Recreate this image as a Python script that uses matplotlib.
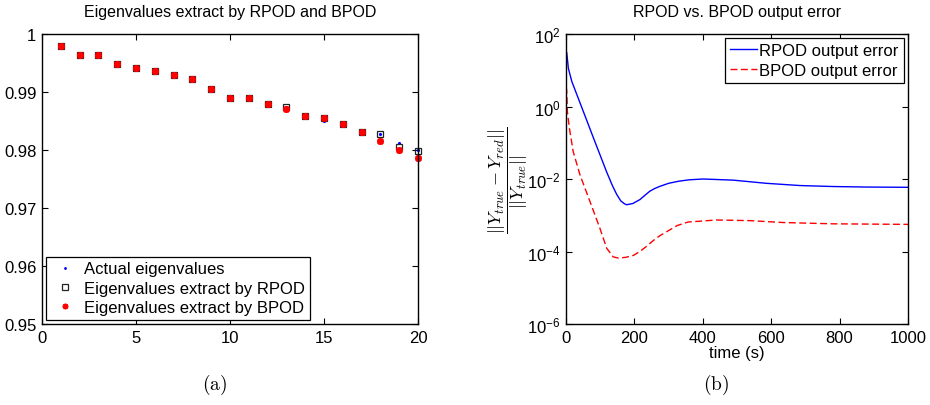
"""Eigenvalue comparison (RPOD / BPOD) and relative output error over time."""

import matplotlib

matplotlib.use("Agg")

import matplotlib.pyplot as plt
from matplotlib.ticker import FixedLocator, FixedFormatter, NullLocator

plt.rcParams["font.family"] = ["Liberation Sans", "DejaVu Sans"]
plt.rcParams["mathtext.fontset"] = "custom"
plt.rcParams["mathtext.rm"] = "Liberation Sans"
plt.rcParams["mathtext.it"] = "Liberation Sans:italic"
plt.rcParams["mathtext.bf"] = "Liberation Sans:bold"

# --- panel (a): eigenvalues -------------------------------------------------
eig_index = list(range(1, 21))
eig_actual = [0.9980, 0.9964, 0.9963, 0.9949, 0.9942, 0.9937, 0.9930, 0.9923, 0.9905, 0.9889,
              0.9889, 0.9882, 0.9874, 0.9858, 0.9850, 0.9844, 0.9831, 0.9827, 0.9812, 0.9800]
eig_rpod = [0.9980, 0.9964, 0.9963, 0.9949, 0.9942, 0.9937, 0.9930, 0.9923, 0.9905, 0.9889,
            0.9889, 0.9879, 0.9874, 0.9858, 0.9855, 0.9844, 0.9831, 0.9827, 0.9806, 0.9798]
eig_bpod = [0.9980, 0.9964, 0.9963, 0.9949, 0.9942, 0.9937, 0.9930, 0.9923, 0.9905, 0.9889,
            0.9889, 0.9879, 0.9871, 0.9858, 0.9855, 0.9844, 0.9831, 0.9816, 0.9800, 0.9787]

# --- panel (b): relative output error ---------------------------------------
t_rpod = [0, 2, 7, 17, 41, 60, 80, 100, 119, 135, 148, 160, 170, 177, 195, 216, 230, 245,
          260, 275, 300, 330, 360, 401, 489, 586, 684, 781, 878, 1000]
err_rpod = [33, 31, 11.2, 4.9, 1.26, 0.43, 0.138, 0.045, 0.0155, 0.0068, 0.0038, 0.0025,
            0.0021, 0.00195, 0.0021, 0.0027, 0.0035, 0.0046, 0.0055, 0.0063, 0.0076,
            0.0087, 0.0095, 0.0100, 0.0093, 0.0076, 0.0066, 0.0062, 0.0060, 0.0059]
t_bpod = [0, 2, 4, 10, 21, 41, 70, 99, 119, 138, 153, 175, 197, 216, 236, 255, 275, 294,
          325, 357, 440, 538, 635, 781, 1000]
err_bpod = [3.5, 2.8, 0.72, 0.25, 0.057, 0.0129, 0.0024, 0.00044, 0.000123, 7.1e-5, 6.6e-5,
            6.9e-5, 7.8e-5, 1.0e-4, 1.4e-4, 2.0e-4, 2.75e-4, 3.5e-4, 5.2e-4, 6.5e-4, 7.4e-4,
            7.1e-4, 6.3e-4, 5.8e-4, 5.6e-4]

TEXT_SIZE = 12


def _matlab_box(ax):
    for spine in ax.spines.values():
        spine.set_linewidth(1.0)
    ax.tick_params(direction="in", length=4, width=0.8, top=True, right=True,
                   labelsize=TEXT_SIZE, pad=4)


fig = plt.figure(figsize=(9.3, 4.06), dpi=100)

# (a)
ax_a = fig.add_axes((42 / 930, 81 / 406, 376 / 930, 290 / 406))
ax_a.plot(eig_index, eig_actual, ".", color="blue", markersize=2.5, clip_on=False,
          label="Actual eigenvalues")
ax_a.plot(eig_index, eig_rpod, "s", markerfacecolor="none", markeredgecolor="#222222",
          markersize=5, markeredgewidth=0.9, clip_on=False, label="Eigenvalues extract by RPOD")
ax_a.plot(eig_index, eig_bpod, linestyle="none", marker=(8, 2, 0), color="red", markersize=5,
          markeredgewidth=1.3, clip_on=False, label="Eigenvalues extract by BPOD")
ax_a.set_xlim(0, 20)
ax_a.set_ylim(0.95, 1.0)
ax_a.set_xticks([0, 5, 10, 15, 20])
ax_a.set_yticks([0.95, 0.96, 0.97, 0.98, 0.99, 1.0])
ax_a.set_yticklabels(["0.95", "0.96", "0.97", "0.98", "0.99", "1"])
_matlab_box(ax_a)
ax_a.set_title("Eigenvalues extract by RPOD and BPOD", fontsize=11.5, pad=13)
leg_a = ax_a.legend(loc="lower left", fontsize=TEXT_SIZE, frameon=True, fancybox=False,
                    edgecolor="black", framealpha=1, borderpad=0.3, labelspacing=0.25,
                    handlelength=1.6, handletextpad=0.4, borderaxespad=0.25, markerscale=0.8)
leg_a.get_frame().set_linewidth(0.9)

# (b)
ax_b = fig.add_axes((566 / 930, 81 / 406, 342 / 930, 290 / 406))
ax_b.semilogy(t_rpod, err_rpod, "-", color="blue", linewidth=1.0, label="RPOD output error")
ax_b.semilogy(t_bpod, err_bpod, "--", color="red", linewidth=1.0, dashes=(5, 2.5),
              label="BPOD output error")
ax_b.set_xlim(0, 1000)
ax_b.set_ylim(1e-6, 1e2)
ax_b.set_xticks([0, 200, 400, 600, 800, 1000])
ax_b.yaxis.set_major_locator(FixedLocator([1e-6, 1e-4, 1e-2, 1e0, 1e2]))
ax_b.yaxis.set_major_formatter(FixedFormatter(
    [r"$10^{-6}$", r"$10^{-4}$", r"$10^{-2}$", r"$10^{0}$", r"$10^{2}$"]))
ax_b.yaxis.set_minor_locator(NullLocator())
_matlab_box(ax_b)
ax_b.set_title("RPOD vs. BPOD output error", fontsize=11.5, pad=13)
ax_b.set_xlabel("time (s)", fontsize=TEXT_SIZE, labelpad=0)
ax_b.set_ylabel(r"$\dfrac{||Y_{true} - Y_{red}||}{||Y_{true}||}$", fontsize=13,
                math_fontfamily="cm")
ax_b.yaxis.set_label_coords(-0.105, 0.5)
leg_b = ax_b.legend(loc="upper right", fontsize=TEXT_SIZE, frameon=True, fancybox=False,
                    edgecolor="black", framealpha=1, borderpad=0.3, labelspacing=0.3,
                    handlelength=1.6, handletextpad=0.15, borderaxespad=0.25)
leg_b.get_frame().set_linewidth(0.9)

fig.text(215 / 930, 1 - 385 / 406, r"$\mathrm{(a)}$", fontsize=14, ha="center", va="center",
         math_fontfamily="cm")
fig.text(716 / 930, 1 - 385 / 406, r"$\mathrm{(b)}$", fontsize=14, ha="center", va="center",
         math_fontfamily="cm")

fig.savefig("out.png", dpi=100)
